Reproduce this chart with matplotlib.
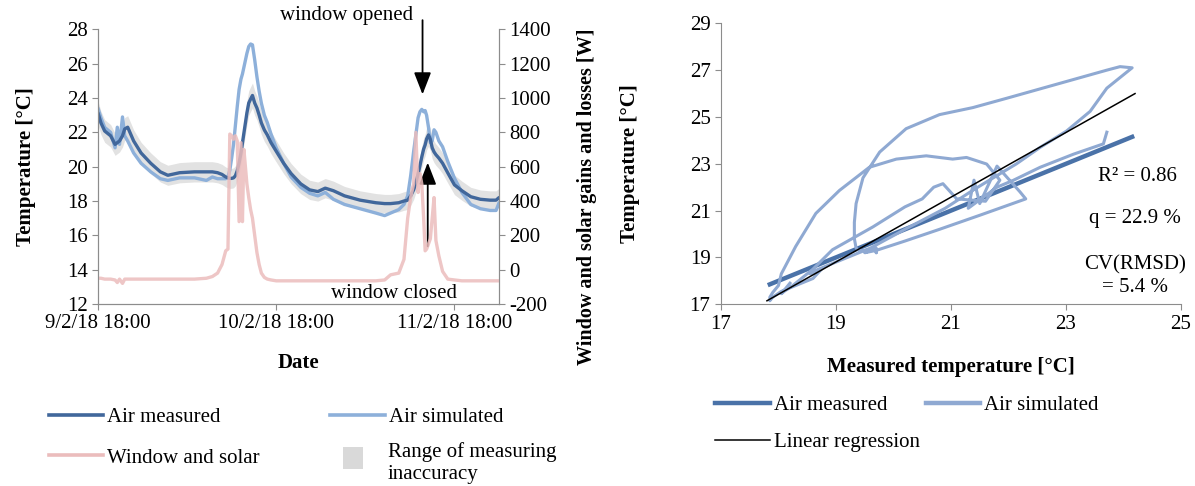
import numpy as np
import matplotlib
matplotlib.use('Agg')
import matplotlib.pyplot as plt
import matplotlib.dates as mdates
from matplotlib.lines import Line2D
from matplotlib.patches import Rectangle
from datetime import datetime, timedelta

plt.rcParams['font.family'] = ['Liberation Serif', 'DejaVu Serif']
plt.rcParams['font.size'] = 15
plt.rcParams['axes.unicode_minus'] = False

# hours after 9/2/18 18:00 (first points lie before the plotted window)
hours = [-1.5, -1.0, 0.0, 0.4, 0.9, 1.7, 2.3, 2.6, 2.9, 3.3, 3.6, 4.0, 4.8, 5.8, 7.1,
         8.4, 9.4, 11.0, 13.0, 14.6, 15.4, 16.1, 16.7, 17.2, 17.5, 17.75, 18.0,
         18.25, 18.5, 18.75, 19.0, 19.25, 19.45, 19.65, 19.85, 20.05, 20.3, 20.55,
         20.8, 21.1, 21.4, 21.7, 22.0, 22.4, 22.8, 23.3, 24.0, 25.0, 26.0, 27.3,
         28.5, 29.6, 30.6, 31.7, 33.2, 35.3, 37.4, 38.6, 39.4, 40.5, 41.2, 41.7,
         42.1, 42.5, 42.8, 43.1, 43.35, 43.6, 43.85, 44.05, 44.25, 44.5, 44.75,
         45.0, 45.25, 45.5, 45.9, 46.4, 47.1, 48.0, 49.0, 50.2, 51.5, 52.8, 53.6,
         54.0]
air_measured = [23.71, 23.65, 23.13, 22.55, 22.08, 21.8, 21.3, 21.4, 21.5, 21.8, 22.2,
                22.3, 21.5, 20.8, 20.2, 19.7, 19.5, 19.65, 19.7, 19.7, 19.7, 19.65,
                19.55, 19.4, 19.35, 19.32, 19.32, 19.35, 19.47, 19.76, 20.22, 20.8,
                21.38, 21.97, 22.55, 23.13, 23.71, 23.94, 24.15, 23.71, 23.42, 23.01,
                22.55, 22.14, 21.85, 21.4, 20.9, 20.2, 19.6, 19.0, 18.65, 18.55, 18.75,
                18.6, 18.3, 18.05, 17.9, 17.85, 17.85, 17.9, 18.0, 18.05, 18.3, 18.65,
                19.06, 19.58, 20.05, 20.57, 21.03, 21.27, 21.62, 21.85, 21.6, 21.1,
                20.86, 20.7, 20.5, 20.2, 19.64, 18.94, 18.6, 18.25, 18.1, 18.05, 18.05,
                18.2]
air_simulated = [24.35, 23.85, 23.41, 22.85, 22.29, 22.0, 21.1, 22.3, 21.3, 22.9, 21.8,
                 21.5, 20.8, 20.2, 19.7, 19.3, 19.2, 19.35, 19.35, 19.2, 19.4, 19.3,
                 19.3, 19.3, 19.4, 19.8, 20.5, 21.3, 22.4, 23.5, 24.5, 25.1, 25.4,
                 25.8, 26.2, 26.6, 27.0, 27.15, 27.1, 26.23, 25.24, 24.4, 23.7, 23.0,
                 22.57, 21.9, 21.1, 20.2, 19.4, 18.8, 18.45, 18.3, 18.5, 18.1, 17.8,
                 17.55, 17.3, 17.15, 17.3, 17.5, 17.8, 18.3, 19.47, 20.88, 21.86,
                 22.85, 23.2, 23.34, 23.2, 23.27, 22.99, 22.3, 21.4, 21.5, 22.15, 22.0,
                 21.5, 21.16, 20.3, 19.33, 18.5, 17.8, 17.55, 17.45, 17.45, 17.9]
window_solar = [-50, -50, -50, -50, -55, -55, -60, -75, -55, -80, -55, -55, -55, -55,
                -55, -55, -55, -55, -55, -50, -40, -20, 30, 110, 120, 790, 780, 760,
                780, 750, 280, 740, 280, 700, 600, 500, 420, 350, 300, 200, 100, 30,
                -20, -45, -55, -60, -65, -65, -65, -65, -65, -65, -65, -65, -65, -65,
                -65, -60, -30, -20, 60, 300, 420, 500, 800, 450, 560, 500, 300, 110,
                120, 150, 180, 300, 420, 170, 80, -10, -55, -60, -65, -65, -65, -65,
                -65, -65]
inaccuracy = 0.03  # relative

reg_slope = 1.383
reg_intercept = -7.47
reg_x = [17.8, 24.2]

start = datetime(2018, 2, 9, 18, 0)
times = [start + timedelta(hours=h) for h in hours]
meas = np.array(air_measured)
sim = np.array(air_simulated)

dark = '#41679b'
light = '#8db0da'
light2 = '#8fa9d2'
pink = '#ebbcbc'
spine_c = '#8c8c8c'

fig = plt.figure(figsize=(11.95, 4.86), dpi=100)

# ---------- left chart ----------
ax = fig.add_axes([0.082, 0.3745, 0.3356, 0.565])
ax.fill_between(times, meas * (1 - inaccuracy), meas * (1 + inaccuracy),
                color='#e2e2e2', lw=0)
ax.plot(times, sim, color=light, lw=2.4, solid_capstyle='round')
ax.plot(times, meas, color=dark, lw=2.4, solid_capstyle='round')
ax.set_ylim(12, 28)
ax.set_yticks(range(12, 29, 2))
ax.set_xlim(start, start + timedelta(hours=54))
ax.set_xticks([start + timedelta(days=d) for d in range(3)])
ax.xaxis.set_major_formatter(mdates.DateFormatter('%-d/%-m/%y %H:%M'))
ax.set_ylabel('Temperature [°C]', fontweight='bold', labelpad=22)
ax.set_xlabel('Date', fontweight='bold', labelpad=14)

ax2 = ax.twinx()
ax2.plot(times, window_solar, color=pink, lw=2.4, alpha=0.85)
ax2.set_ylim(-200, 1400)
ax2.set_yticks(range(-200, 1401, 200))
ax2.set_ylabel('Window and solar gains and losses [W]', fontweight='bold', fontsize=14.5)
ax2.yaxis.set_label_coords(1.195, 0.39)

for a in (ax, ax2):
    for s in a.spines.values():
        s.set_color(spine_c)
    a.spines['top'].set_visible(False)
    a.tick_params(color=spine_c, direction='out', length=4)

t_open = start + timedelta(hours=43.7)
t_close = start + timedelta(hours=44.4)
ax.annotate('', xy=(t_open, 24.05), xytext=(t_open, 28.7),
            arrowprops=dict(arrowstyle='-|>,head_width=0.35,head_length=0.9',
                            color='black', lw=1.3), annotation_clip=False)
ax.annotate('', xy=(t_close, 20.4), xytext=(t_close, 15.2),
            arrowprops=dict(arrowstyle='-|>,head_width=0.35,head_length=0.9',
                            color='black', lw=1.3))
ax.text(start + timedelta(hours=33.5), 28.83, 'window opened', ha='center', va='center')
ax.text(start + timedelta(hours=39.9), 12.62, 'window closed', ha='center', va='center')

handles = [Line2D([], [], color=dark, lw=2.6),
           Line2D([], [], color=pink, lw=2.6),
           Line2D([], [], color=light, lw=2.6)]
labels = ['Air measured', 'Window and solar', 'Air simulated']
fig.legend(handles, labels, ncol=2, loc='upper left', bbox_to_anchor=(0.025, 0.2),
           frameon=False, handlelength=2.6, columnspacing=3.4, labelspacing=1.0,
           handletextpad=0.2)
# measuring-inaccuracy entry (square swatch + two-line label)
fig.patches.append(Rectangle((343 / 1195, 1 - 469 / 486), 20 / 1195, 22 / 486,
                             transform=fig.transFigure, color='#d9d9d9', lw=0))
fig.text(388 / 1195, 1 - 463 / 486, 'Range of measuring\ninaccuracy',
         va='center', ha='left', linespacing=1.15)

# ---------- right chart ----------
bx = fig.add_axes([0.6033, 0.374, 0.385, 0.578])
bx.plot([meas.min(), meas.max()], [meas.min(), meas.max()], color='#4a72a8', lw=3.2)
bx.plot(meas, sim, color=light2, lw=2.2)
reg_y = [reg_slope * v + reg_intercept for v in reg_x]
bx.plot(reg_x, reg_y, color='black', lw=1.1)
bx.set_xlim(17, 25)
bx.set_ylim(17, 29)
bx.set_xticks(range(17, 26, 2))
bx.set_yticks(range(17, 30, 2))
bx.set_xlabel('Measured temperature [°C]', fontweight='bold', labelpad=17)
bx.set_ylabel('Temperature [°C]', fontweight='bold', labelpad=36)
for s in ('top', 'right'):
    bx.spines[s].set_visible(False)
for s in ('left', 'bottom'):
    bx.spines[s].set_color(spine_c)
bx.tick_params(color=spine_c, direction='out', length=4)
bx.text(24.24, 22.45, 'R² = 0.86', ha='center', va='center')
bx.text(24.2, 20.67, 'q = 22.9 %', ha='center', va='center')
bx.text(24.2, 18.2, 'CV(RMSD)\n= 5.4 %', ha='center', va='center', linespacing=1.2)

h2 = [Line2D([], [], color='#4a72a8', lw=3.2),
      Line2D([], [], color='black', lw=1.1),
      Line2D([], [], color=light2, lw=3.2)]
l2 = ['Air measured', 'Linear regression', 'Air simulated']
fig.legend(h2, l2, ncol=2, loc='upper left', bbox_to_anchor=(0.583, 0.225),
           frameon=False, handlelength=2.6, columnspacing=0.3, labelspacing=0.85,
           handletextpad=0.2)

fig.savefig('out.png', dpi=100)
